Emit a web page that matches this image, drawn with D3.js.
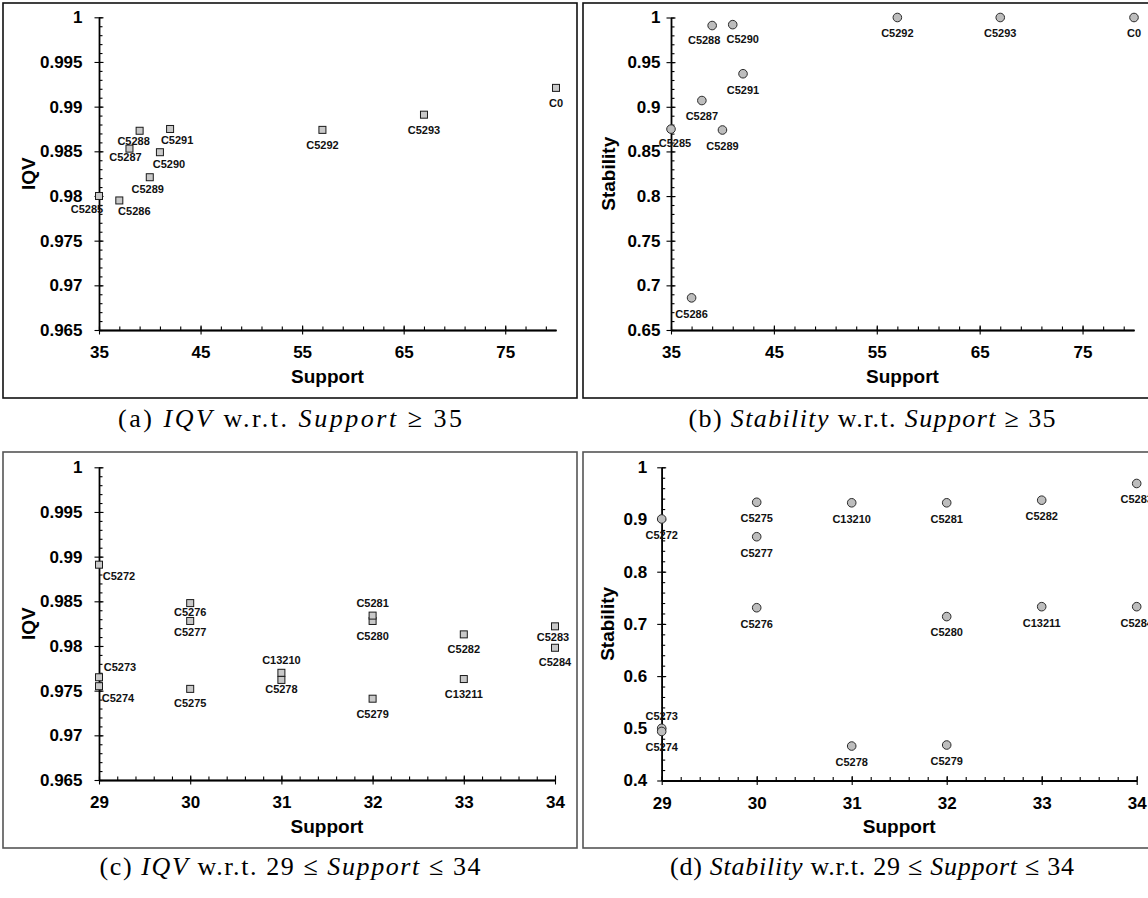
<!DOCTYPE html>
<html><head><meta charset="utf-8">
<script src="https://cdn.jsdelivr.net/npm/d3@7"></script>
<style>
body{margin:0;background:#fff}
svg{display:block}
</style>
</head><body>
<svg id="chart" width="1148" height="898"></svg>
<script>
// ---------- DATA ----------
const namesHigh = ["C5285","C5286","C5287","C5288","C5289","C5290","C5291","C5292","C5293","C0"];
const supportHigh = [35,37,38,39,40,41,42,57,67,80];
const iqvHigh = [0.9800,0.9795,0.9853,0.9873,0.9821,0.9849,0.9875,0.9874,0.9891,0.9921];
const stabilityHigh = [0.875,0.686,0.907,0.991,0.874,0.992,0.937,1.0,1.0,1.0];

const namesLow = ["C5272","C5273","C5274","C5275","C5276","C5277","C5278","C13210","C5279","C5280","C5281","C5282","C13211","C5283","C5284"];
const supportLow = [29,29,29,30,30,30,31,31,32,32,32,33,33,34,34];
const iqvLow = [0.9891,0.9765,0.9755,0.9752,0.9848,0.9828,0.9762,0.9770,0.9741,0.9828,0.9834,0.9813,0.9763,0.9822,0.9798];
const stabilityLow = [0.901,0.500,0.494,0.933,0.731,0.867,0.466,0.932,0.468,0.714,0.932,0.937,0.733,0.969,0.733];

const xTicksHigh = [35,45,55,65,75];
const xTicksLow = [29,30,31,32,33,34];
const yTicksIQV = [0.965,0.97,0.975,0.98,0.985,0.99,0.995,1];
const yTicksStabHigh = [0.65,0.7,0.75,0.8,0.85,0.9,0.95,1];
const yTicksStabLow = [0.4,0.5,0.6,0.7,0.8,0.9,1];

const xTitle = "Support";
const yTitleIQV = "IQV";
const yTitleStab = "Stability";

const captionA = [["(a) ",false],["IQV",true],[" w.r.t. ",false],["Support",true],[" ≥ 35",false]];
const captionB = [["(b) ",false],["Stability",true],[" w.r.t. ",false],["Support",true],[" ≥ 35",false]];
const captionC = [["(c) ",false],["IQV",true],[" w.r.t. 29 ≤ ",false],["Support",true],[" ≤ 34",false]];
const captionD = [["(d) ",false],["Stability",true],[" w.r.t. 29 ≤ ",false],["Support",true],[" ≤ 34",false]];

// ---------- LABEL PLACEMENT (styling) ----------
const nudgeA = {C5285:[-12,13],C5286:[15,11],C5287:[-4,9],C5288:[-6,10],C5289:[-2,12],C5290:[9,12],C5291:[7,11]};
const nudgeB = {C5288:[-8,15],C5290:[10,15],C5285:[4,14]};
const nudgeC = {C5272:[20,11],C5273:[21,-10],C5274:[19,12],C5276:[0,9],C5277:[0,11],C5275:[0,14],C13210:[0,-13],C5278:[0,9],C5281:[0,-12],C5280:[0,15],C5283:[-2,11],C5284:[0,14]};
const nudgeD = {C5273:[0,-12]};

// ---------- LAYOUT ----------
const panels = [
  {frame:[3,3,574,395], stroke:"#111", px:[99,556], py:[17.3,330], xd:[35,80], yd:[0.965,1],
   xt:xTicksHigh, xminor:2, yt:yTicksIQV, yminor:0.001, yPad:12, names:namesHigh, xs:supportHigh, ys:iqvHigh,
   marker:"square", ytitle:yTitleIQV, titleX:28, nudge:nudgeA, def:[0,15], caption:captionA, capX:290, capY:418, capW:344},
  {frame:[583,3,578,395], stroke:"#111", px:[671,1134], py:[17.5,330], xd:[35,80], yd:[0.65,1],
   xt:xTicksHigh, xminor:2, yt:yTicksStabHigh, yminor:0.01, yPad:6, names:namesHigh, xs:supportHigh, ys:stabilityHigh,
   marker:"circle", ytitle:yTitleStab, titleX:608, nudge:nudgeB, def:[0,16], caption:captionB, capX:872, capY:418, capW:367},
  {frame:[3,452,574,396], stroke:"#555", px:[99,555], py:[467.3,780], xd:[29,34], yd:[0.965,1],
   xt:xTicksLow, xminor:0.2, yt:yTicksIQV, yminor:0.001, yPad:12, names:namesLow, xs:supportLow, ys:iqvLow,
   marker:"square", ytitle:yTitleIQV, titleX:28, nudge:nudgeC, def:[0,15], caption:captionC, capX:290, capY:866, capW:381},
  {frame:[583,452,578,396], stroke:"#555", px:[661.7,1136.7], py:[467.3,780.5], xd:[29,34], yd:[0.4,1],
   xt:xTicksLow, xminor:0.2, yt:yTicksStabLow, yminor:0.02, yPad:10, names:namesLow, xs:supportLow, ys:stabilityLow,
   marker:"circle", ytitle:yTitleStab, titleX:607, nudge:nudgeD, def:[0,16], caption:captionD, capX:872, capY:866, capW:404}
];

const svg = d3.select("#chart");
svg.append("rect").attr("width",1148).attr("height",898).attr("fill","#fff");
const SANS = "'Liberation Sans', Arial, Helvetica, sans-serif";
const SERIF = "'Liberation Serif', 'Times New Roman', serif";
const fmt = v => String(+v.toFixed(4));

panels.forEach(p => {
  const g = svg.append("g");
  g.append("rect").attr("x",p.frame[0]).attr("y",p.frame[1]).attr("width",p.frame[2]).attr("height",p.frame[3])
    .attr("fill","#fff").attr("stroke",p.stroke).attr("stroke-width",1.6);

  const x = d3.scaleLinear().domain(p.xd).range(p.px);
  const y = d3.scaleLinear().domain(p.yd).range([p.py[1],p.py[0]]);

  const xMinorVals = d3.range(p.xd[0], p.xd[1]+1e-9, p.xminor).map(v=>+v.toFixed(4));
  const yMinorVals = d3.range(p.yd[0], p.yd[1]+1e-9, p.yminor).map(v=>+v.toFixed(4));

  const xmin = g.append("g").attr("transform",`translate(0,${p.py[1]})`)
    .call(d3.axisBottom(x).tickValues(xMinorVals).tickSize(-3.5).tickSizeOuter(0).tickFormat(""));
  const ymin = g.append("g").attr("transform",`translate(${p.px[0]},0)`)
    .call(d3.axisLeft(y).tickValues(yMinorVals).tickSize(-3.5).tickSizeOuter(0).tickFormat(""));
  const xin = g.append("g").attr("transform",`translate(0,${p.py[1]})`)
    .call(d3.axisBottom(x).tickValues(p.xt).tickSize(-4.5).tickSizeOuter(0).tickFormat(""));
  const yin = g.append("g").attr("transform",`translate(${p.px[0]},0)`)
    .call(d3.axisLeft(y).tickValues(p.yt).tickSize(-4.5).tickSizeOuter(0).tickFormat(""));
  const xax = g.append("g").attr("transform",`translate(0,${p.py[1]})`)
    .call(d3.axisBottom(x).tickValues(p.xt).tickSize(4.5).tickSizeOuter(0).tickPadding(11.5).tickFormat(d3.format("d")));
  const yax = g.append("g").attr("transform",`translate(${p.px[0]},0)`)
    .call(d3.axisLeft(y).tickValues(p.yt).tickSize(4.5).tickSizeOuter(0).tickPadding(p.yPad).tickFormat(fmt));

  [xmin,ymin,xin,yin,xax,yax].forEach(a=>{
    a.selectAll("path.domain").attr("stroke","#000").attr("stroke-width",1.3);
    a.selectAll(".tick line").attr("stroke","#000").attr("stroke-width",1.1);
  });
  [xax,yax].forEach(a=>a.selectAll("text").attr("font-family",SANS).attr("font-weight","bold")
    .attr("font-size",17).attr("fill","#000"));

  g.append("text").attr("x",(p.px[0]+p.px[1])/2).attr("y",p.py[1]+46).attr("dy","0.35em")
    .attr("text-anchor","middle").attr("font-family",SANS).attr("font-weight","bold").attr("font-size",19)
    .text(xTitle);
  const my = (p.py[0]+p.py[1])/2;
  g.append("text").attr("transform",`translate(${p.titleX},${my}) rotate(-90)`).attr("dy","0.35em")
    .attr("text-anchor","middle").attr("font-family",SANS).attr("font-weight","bold").attr("font-size",19)
    .text(p.ytitle);

  const idx = d3.range(p.names.length);
  if (p.marker === "square") {
    g.selectAll("rect.pt").data(idx).join("rect").attr("class","pt")
      .attr("x",i=>x(p.xs[i])-3.5).attr("y",i=>y(p.ys[i])-3.5).attr("width",7).attr("height",7)
      .attr("fill","#c9c9c9").attr("stroke","#1a1a1a").attr("stroke-width",1);
  } else {
    g.selectAll("circle.pt").data(idx).join("circle").attr("class","pt")
      .attr("cx",i=>x(p.xs[i])).attr("cy",i=>y(p.ys[i])).attr("r",4.3)
      .attr("fill","#bdbdbd").attr("stroke","#2a2a2a").attr("stroke-width",1);
  }
  g.selectAll("text.lbl").data(idx).join("text").attr("class","lbl")
    .attr("x",i=>x(p.xs[i])+(p.nudge[p.names[i]]||p.def)[0])
    .attr("y",i=>y(p.ys[i])+(p.nudge[p.names[i]]||p.def)[1])
    .attr("dy","0.35em").attr("text-anchor","middle")
    .attr("font-family",SANS).attr("font-weight","bold").attr("font-size",11).attr("fill","#111")
    .text(i=>p.names[i]);

  const cap = svg.append("text").attr("x",p.capX).attr("y",p.capY).attr("dy","0.35em")
    .attr("text-anchor","middle").attr("font-family",SERIF).attr("font-size",26).attr("fill","#000")
    .attr("textLength",p.capW).attr("lengthAdjust","spacing");
  p.caption.forEach(([t,it]) => cap.append("tspan").attr("font-style",it?"italic":"normal").text(t));
});
</script>
</body></html>
